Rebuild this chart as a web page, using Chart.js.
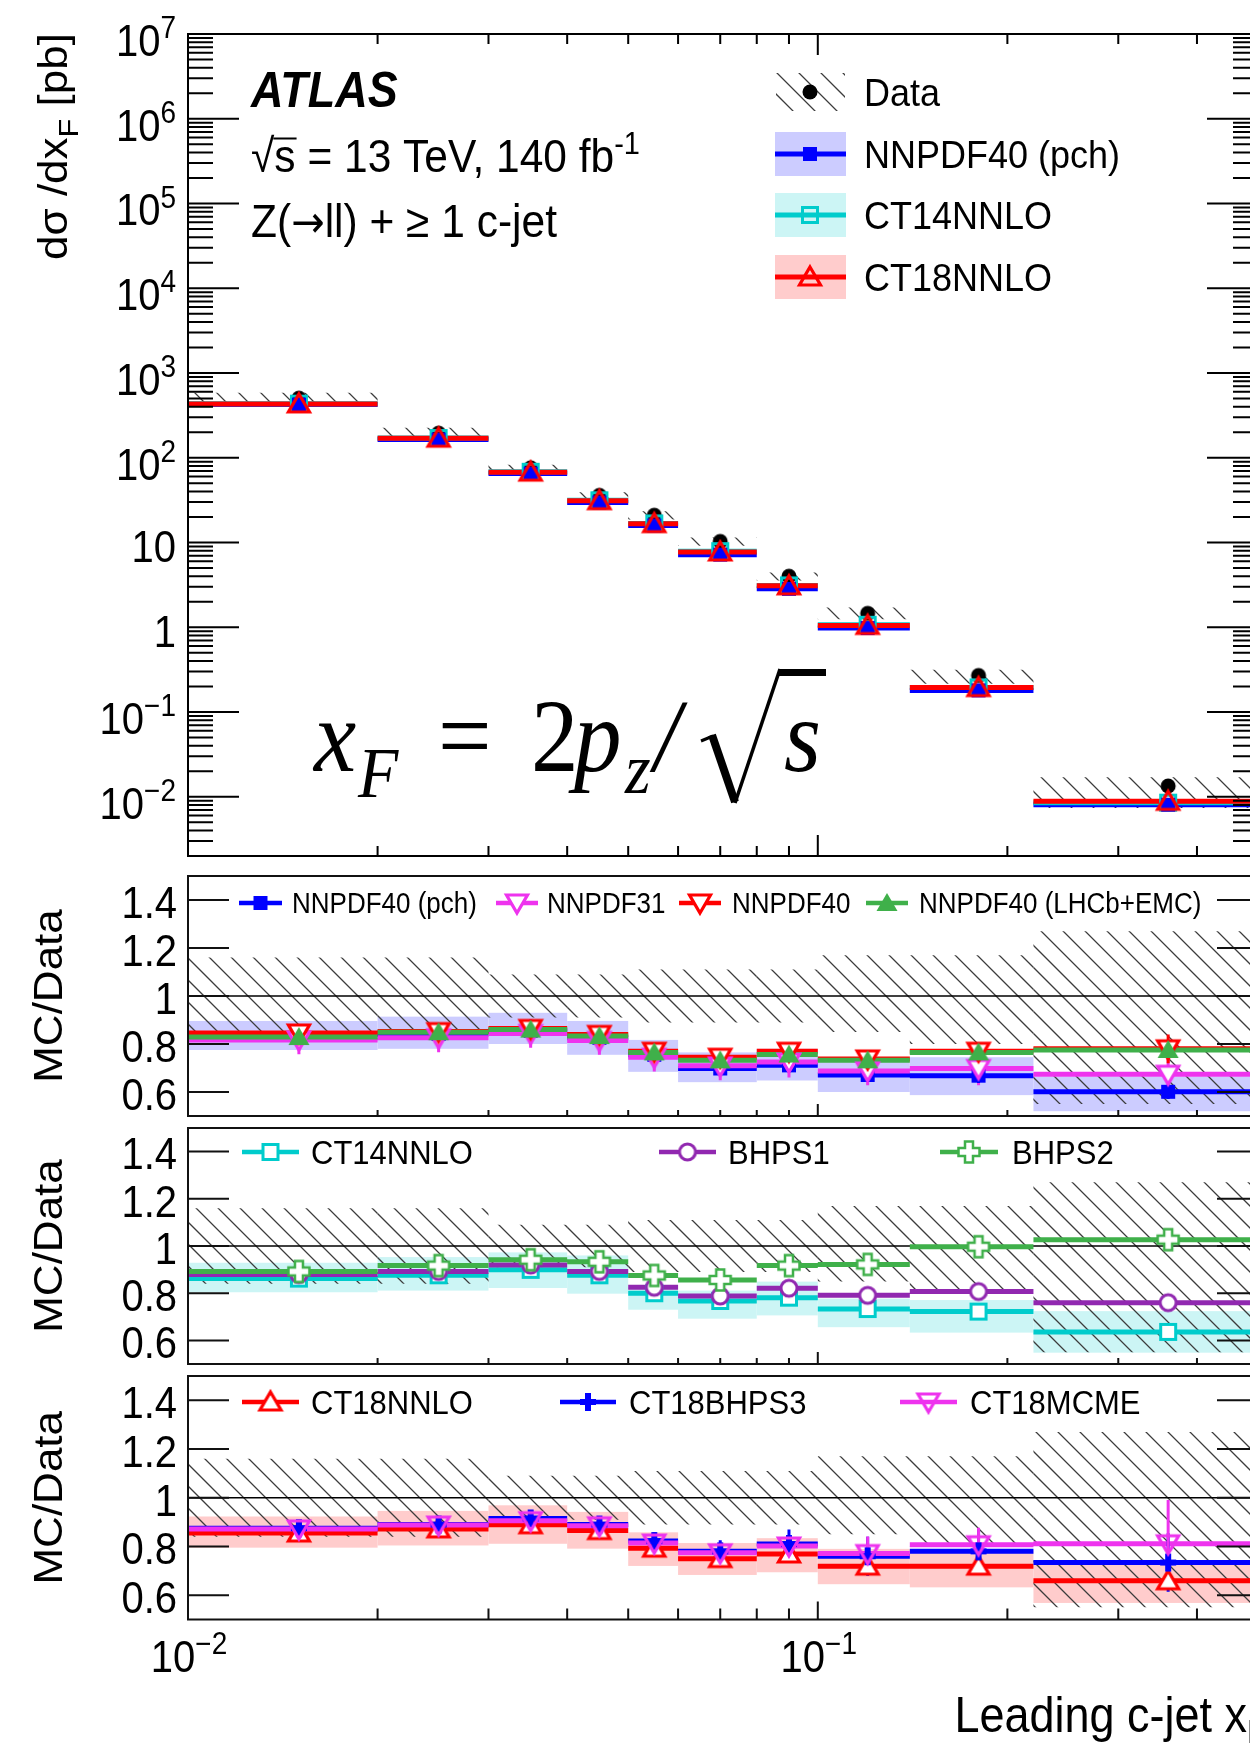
<!DOCTYPE html>
<html>
<head>
<meta charset="utf-8">
<title>Leading c-jet xF</title>
<script src="https://cdn.jsdelivr.net/npm/chart.js@4.4.1/dist/chart.umd.min.js"></script>
<style>
  html, body { margin: 0; padding: 0; background: #fff; width: 1250px; height: 1751px; overflow: hidden; position: relative; }
  canvas { position: absolute; left: 0; }
</style>
</head>
<body>
<canvas id="cTop" width="1300" height="866" style="top:0px"></canvas>
<canvas id="cR1" width="1300" height="260" style="top:866px"></canvas>
<canvas id="cR2" width="1300" height="256" style="top:1118px"></canvas>
<canvas id="cR3" width="1300" height="385" style="top:1366px"></canvas>
<script>
// x_F bins and the bin centres where the markers sit
const binEdges = [0.01, 0.02, 0.03, 0.04, 0.05, 0.06, 0.08, 0.10, 0.14, 0.22, 0.5];
const binCenters = [0.015, 0.025, 0.035, 0.045, 0.055, 0.07, 0.09, 0.12, 0.18, 0.36];

// top panel, dsigma/dxF [pb]
const dataXsec = [505, 195, 76, 36, 21, 10.3, 4.0, 1.46, 0.27, 0.0134];
const dataUncUp = [0.16, 0.16, 0.09, 0.09, 0.11, 0.11, 0.11, 0.17, 0.17, 0.27];
const dataUncDn = [0.16, 0.16, 0.09, 0.09, 0.11, 0.11, 0.11, 0.15, 0.20, 0.45];
const xsecNNPDF40pch = [424, 164, 65, 29.7, 15.9, 7.19, 2.84, 0.98, 0.180, 0.00805];
const xsecCT14 = [435, 171, 68.3, 31.5, 16.8, 7.9, 3.12, 1.07, 0.195, 0.00852];
const xsecCT18 = [432, 170, 67.6, 31.1, 16.7, 7.73, 3.08, 1.05, 0.194, 0.00883];

// ratio panel 1 (NNPDF family)
const r1Pch = [0.84, 0.842, 0.855, 0.826, 0.755, 0.698, 0.711, 0.671, 0.668, 0.601];
const r1PchLo = [0.775, 0.78, 0.80, 0.755, 0.684, 0.641, 0.648, 0.60, 0.587, 0.52];
const r1PchHi = [0.896, 0.914, 0.93, 0.896, 0.817, 0.765, 0.78, 0.725, 0.745, 0.664];
const r1PchErr = [0.015, 0.015, 0.015, 0.015, 0.02, 0.02, 0.025, 0.025, 0.03, 0.03];
const r1Nn31 = [0.817, 0.826, 0.844, 0.815, 0.745, 0.709, 0.725, 0.688, 0.698, 0.674];
const r1Nn31Err = [0.06, 0.06, 0.06, 0.06, 0.06, 0.06, 0.065, 0.06, 0.07, 0.09];
const r1Nn40 = [0.846, 0.852, 0.865, 0.84, 0.77, 0.745, 0.77, 0.738, 0.77, 0.78];
const r1Nn40Err = [0.02, 0.02, 0.02, 0.02, 0.02, 0.02, 0.02, 0.02, 0.03, 0.06];
const r1Lhcb = [0.829, 0.849, 0.86, 0.833, 0.765, 0.732, 0.756, 0.732, 0.765, 0.775];
const r1LhcbErr = [0.01, 0.01, 0.01, 0.01, 0.015, 0.015, 0.015, 0.015, 0.02, 0.025];

// ratio panel 2 (CT14 and BHPS)
const r2Ct14 = [0.862, 0.876, 0.899, 0.876, 0.80, 0.767, 0.781, 0.733, 0.722, 0.636];
const r2Ct14Lo = [0.804, 0.811, 0.822, 0.798, 0.73, 0.692, 0.706, 0.656, 0.633, 0.548];
const r2Ct14Hi = [0.929, 0.953, 0.973, 0.96, 0.825, 0.811, 0.849, 0.777, 0.771, 0.724];
const r2Bhps1 = [0.879, 0.892, 0.919, 0.892, 0.825, 0.788, 0.821, 0.791, 0.807, 0.76];
const r2Bhps2 = [0.892, 0.917, 0.942, 0.933, 0.875, 0.856, 0.917, 0.922, 0.997, 1.027];

// ratio panel 3 (CT18 family)
const r3Ct18 = [0.855, 0.872, 0.889, 0.865, 0.793, 0.75, 0.769, 0.719, 0.719, 0.659];
const r3Ct18Lo = [0.795, 0.804, 0.811, 0.791, 0.72, 0.683, 0.694, 0.645, 0.632, 0.568];
const r3Ct18Hi = [0.923, 0.946, 0.969, 0.942, 0.858, 0.814, 0.834, 0.79, 0.784, 0.74];
const r3Ct18Err = [0.01, 0.01, 0.01, 0.01, 0.015, 0.015, 0.02, 0.02, 0.025, 0.03];
const r3Bhps3 = [0.875, 0.89, 0.915, 0.89, 0.822, 0.78, 0.81, 0.76, 0.78, 0.734];
const r3Bhps3Err = [0.02, 0.02, 0.02, 0.02, 0.035, 0.045, 0.06, 0.08, 0.09, 0.12];
const r3Mcme = [0.872, 0.888, 0.906, 0.885, 0.814, 0.774, 0.802, 0.771, 0.807, 0.811];
const r3McmeErr = [0.02, 0.02, 0.02, 0.02, 0.03, 0.035, 0.04, 0.07, 0.07, 0.18];

// axis ticks
const xMajorTicks = [0.01, 0.1];
const xMinorTicks = [0.02, 0.03, 0.04, 0.05, 0.06, 0.07, 0.08, 0.09, 0.2, 0.3, 0.4];
const ratioTicks = [0.6, 0.8, 1.0, 1.2, 1.4];
const topExponents = [-2, -1, 0, 1, 2, 3, 4, 5, 6, 7];

const FONT = '"Liberation Sans", Arial, Helvetica, sans-serif';
const SERIF = '"Liberation Serif", "Times New Roman", serif';
const SY = 1.1; // text in the reference is a bit taller than wide

const BLUE = '#0000ff', CYAN = '#00cccc', RED = '#ff0000', MAGENTA = '#ee33ee',
      GREEN = '#3fb04a', PURPLE = '#9128b0', HATCH = '#3c3c3c';
const BAND_BLUE = '#ccccff', BAND_CYAN = '#ccf5f5', BAND_RED = '#ffcccc';

// ---------- small drawing helpers ----------
function rich(ctx, parts, x, y, o = {}) {
  ctx.save();
  ctx.translate(x, y);
  ctx.scale(1, SY);
  if (o.rot) ctx.rotate(o.rot);
  ctx.fillStyle = o.color || '#000';
  ctx.textBaseline = 'alphabetic';
  ctx.textAlign = 'left';
  const fontOf = p => (p.style || '') + ' ' + p.size + 'px ' + (p.family || FONT);
  let total = 0;
  const widths = parts.map(p => { ctx.font = fontOf(p); const w = ctx.measureText(p.t).width; total += w; return w; });
  let cx = o.align === 'right' ? -total : o.align === 'center' ? -total / 2 : 0;
  parts.forEach((p, i) => {
    ctx.font = fontOf(p);
    ctx.fillText(p.t, cx, p.dy || 0);
    cx += widths[i];
  });
  ctx.restore();
  return total;
}
const base = (yc, size) => yc + 0.358 * size * SY;

function hatchRect(ctx, x0, y0, x1, y1, phase) {
  const sp = 22;
  ctx.save();
  ctx.beginPath();
  ctx.rect(x0, y0, x1 - x0, y1 - y0);
  ctx.clip();
  ctx.strokeStyle = HATCH;
  ctx.lineWidth = 1.3;
  ctx.beginPath();
  const cMin = y0 - x1, cMax = y1 - x0;
  for (let c = Math.floor((cMin + phase) / sp) * sp - phase; c <= cMax + sp; c += sp) {
    ctx.moveTo(x0 - 2, x0 - 2 + c);
    ctx.lineTo(x1 + 2, x1 + 2 + c);
  }
  ctx.stroke();
  ctx.restore();
}

function marker(kind, color, fill) {
  const S = 28, c = document.createElement('canvas');
  c.width = S; c.height = S;
  const g = c.getContext('2d'), m = S / 2;
  g.strokeStyle = color; g.fillStyle = color; g.lineWidth = 3; g.lineJoin = 'miter';
  g.beginPath();
  if (kind === 'dot') {
    g.arc(m, m, 7.5, 0, 2 * Math.PI); g.fill();
  } else if (kind === 'sqFull') {
    g.fillRect(m - 7, m - 7, 14, 14);
  } else if (kind === 'sqOpen') {
    g.rect(m - 7.5, m - 7.5, 15, 15);
    if (fill) { g.fillStyle = fill; g.fill(); }
    g.stroke();
  } else if (kind === 'triUp' || kind === 'triDown' || kind === 'triUpFull') {
    const s = kind === 'triDown' ? -1 : 1;
    g.moveTo(m, m - 10 * s); g.lineTo(m + 10.5, m + 8 * s); g.lineTo(m - 10.5, m + 8 * s); g.closePath();
    if (kind === 'triUpFull') { g.fill(); }
    else { if (fill) { g.fillStyle = fill; g.fill(); } g.lineWidth = 3.2; g.stroke(); }
  } else if (kind === 'circOpen') {
    g.arc(m, m, 8, 0, 2 * Math.PI);
    if (fill) { g.fillStyle = fill; g.fill(); }
    g.stroke();
  } else if (kind === 'crossOpen') {
    const L = 10.5, w = 4;
    const pts = [[-w, -L], [w, -L], [w, -w], [L, -w], [L, w], [w, w], [w, L], [-w, L], [-w, w], [-L, w], [-L, -w], [-w, -w]];
    pts.forEach((p, i) => (i ? g.lineTo(m + p[0], m + p[1]) : g.moveTo(m + p[0], m + p[1])));
    g.closePath();
    if (fill) { g.fillStyle = fill; g.fill(); }
    g.lineWidth = 2.5; g.stroke();
  } else if (kind === 'plus') {
    g.fillRect(m - 3, m - 9, 6, 18);
    g.fillRect(m - 8, m - 3, 16, 6);
  }
  return c;
}

// ---------- dataset builders ----------
function stepData(vals) {
  const pts = [];
  vals.forEach((v, i) => pts.push({x: binEdges[i], y: v}, {x: binEdges[i + 1], y: v}, {x: binEdges[i + 1], y: null}));
  return pts;
}
function errData(vals, err) {
  const pts = [];
  vals.forEach((v, i) => pts.push({x: binCenters[i], y: v - err[i]}, {x: binCenters[i], y: v + err[i]}, {x: binCenters[i], y: null}));
  return pts;
}
const lineDs = (vals, color) => ({data: stepData(vals), borderColor: color, borderWidth: 5, pointRadius: 0, fill: false, tension: 0, borderCapStyle: 'butt'});
const errDs = (vals, err, color) => ({data: errData(vals, err), borderColor: color, borderWidth: 3, pointRadius: 0, fill: false, borderCapStyle: 'butt'});
const markDs = (vals, img) => ({data: vals.map((v, i) => ({x: binCenters[i], y: v})), showLine: false, pointStyle: img, pointRadius: 10, pointHoverRadius: 10, borderWidth: 0});
// list is bottom-to-top; chart.js draws lower order on top
const ordered = list => list.map((d, k) => Object.assign(d, {order: -k}));

function makeChart(id, padTop, padBottom, yScale, datasets, plugin) {
  return new Chart(document.getElementById(id), {
    type: 'line',
    data: {datasets: ordered(datasets)},
    options: {
      responsive: false, animation: false, devicePixelRatio: 1, events: [],
      layout: {padding: {left: 188, right: 42, top: padTop, bottom: padBottom}},
      plugins: {legend: {display: false}, tooltip: {enabled: false}},
      scales: {
        x: {type: 'logarithmic', min: 0.01, max: 0.5, display: false},
        y: Object.assign({display: false}, yScale)
      }
    },
    plugins: [plugin]
  });
}

function drawXTicks(ctx, a, x, maj, min, top) {
  ctx.beginPath();
  xMajorTicks.concat(xMinorTicks).forEach(v => {
    const px = x.getPixelForValue(v), len = xMajorTicks.includes(v) ? maj : min;
    ctx.moveTo(px, a.bottom); ctx.lineTo(px, a.bottom - len);
    if (top) { ctx.moveTo(px, a.top); ctx.lineTo(px, a.top + len); }
  });
  ctx.stroke();
}

// ---------- top panel ----------
const topImgs = {
  data: marker('dot', '#000'),
  pch: marker('sqFull', BLUE),
  ct14: marker('sqOpen', CYAN),
  ct18: marker('triUp', RED)
};

const topPlugin = {
  id: 'topDeco',
  beforeDatasetsDraw(chart) {
    const {ctx, chartArea: a, scales: {x, y}} = chart;
    ctx.save();
    ctx.beginPath(); ctx.rect(a.left, a.top, a.right - a.left, a.bottom - a.top); ctx.clip();
    dataXsec.forEach((v, i) => {
      hatchRect(ctx, x.getPixelForValue(binEdges[i]), y.getPixelForValue(v * (1 + dataUncUp[i])),
        x.getPixelForValue(binEdges[i + 1]), y.getPixelForValue(v * (1 - dataUncDn[i])), 0);
    });
    ctx.restore();
  },
  afterDraw(chart) {
    const {ctx, chartArea: a, scales: {x, y}} = chart;
    ctx.save();
    ctx.strokeStyle = '#000'; ctx.lineWidth = 2;
    ctx.strokeRect(a.left, a.top, a.right - a.left, a.bottom - a.top);
    drawXTicks(ctx, a, x, 21, 10, true);
    // log y ticks
    ctx.beginPath();
    topExponents.forEach(e => {
      const py = y.getPixelForValue(Math.pow(10, e));
      ctx.moveTo(a.left, py); ctx.lineTo(a.left + 51, py);
      ctx.moveTo(a.right, py); ctx.lineTo(a.right - 51, py);
    });
    for (let e = -3; e < 7; e++) {
      for (let k = 2; k <= 9; k++) {
        const v = k * Math.pow(10, e);
        if (v < y.min) continue;
        const py = y.getPixelForValue(v);
        ctx.moveTo(a.left, py); ctx.lineTo(a.left + 25, py);
        ctx.moveTo(a.right, py); ctx.lineTo(a.right - 25, py);
      }
    }
    ctx.stroke();
    topExponents.forEach(e => {
      const py = y.getPixelForValue(Math.pow(10, e));
      let parts;
      if (e === 0) parts = [{t: '1', size: 40}];
      else if (e === 1) parts = [{t: '10', size: 40}];
      else parts = [{t: '10', size: 40}, {t: e < 0 ? '\u2212' + (-e) : String(e), size: 28, dy: -16}];
      rich(ctx, parts, 176, base(py + (parts.length > 1 ? 6 : 4), 40), {align: 'right'});
    });
    // y title
    rich(ctx, [{t: 'd\u03c3 /dx', size: 40}, {t: 'F', size: 28, dy: 11}, {t: ' [pb]', size: 40}], 67, 33, {align: 'right', rot: -Math.PI / 2});
    // labels
    rich(ctx, [{t: 'ATLAS', size: 45, style: 'italic bold'}], 251, 107);
    rich(ctx, [{t: '\u221as = 13 TeV, 140 fb', size: 42.5}, {t: '-1', size: 29, dy: -16}], 251, 172);
    ctx.font = '42.5px ' + FONT;
    const wr = ctx.measureText('\u221a').width, ws = ctx.measureText('s').width;
    ctx.lineWidth = 2;
    ctx.beginPath(); ctx.moveTo(251 + wr - 1, 172 - 33.5); ctx.lineTo(251 + wr + ws + 1, 172 - 33.5); ctx.stroke();
    rich(ctx, [{t: 'Z(', size: 42.5}, {t: '\u2192', size: 40, family: '"DejaVu Sans", sans-serif'},
               {t: 'll) + \u2265 1 c-jet', size: 42.5}], 251, 237);
    // legend
    const rows = [
      {label: 'Data', yc: 92},
      {label: 'NNPDF40 (pch)', yc: 154, color: BLUE, band: BAND_BLUE, img: topImgs.pch},
      {label: 'CT14NNLO', yc: 215, color: CYAN, band: BAND_CYAN, img: topImgs.ct14},
      {label: 'CT18NNLO', yc: 277, color: RED, band: BAND_RED, img: topImgs.ct18}
    ];
    rows.forEach(r => {
      if (r.band) {
        ctx.fillStyle = r.band; ctx.fillRect(775, r.yc - 22, 71, 44);
        ctx.strokeStyle = r.color; ctx.lineWidth = 5;
        ctx.beginPath(); ctx.moveTo(775, r.yc); ctx.lineTo(846, r.yc); ctx.stroke();
        ctx.drawImage(r.img, 810 - r.img.width / 2, r.yc - r.img.height / 2);
      } else {
        hatchRect(ctx, 776, r.yc - 19, 845, r.yc + 19, 0);
        ctx.drawImage(topImgs.data, 810 - 14, r.yc - 14);
      }
      rich(ctx, [{t: r.label, size: 36}], 864, base(r.yc, 36));
    });
    // formula x_F = 2 p_z / sqrt(s)
    const big = 95, small = 66, bl = 771;
    rich(ctx, [{t: 'x', size: big, style: 'italic', family: SERIF}], 314, bl);
    rich(ctx, [{t: 'F', size: small, style: 'italic', family: SERIF}], 358, bl + 26);
    rich(ctx, [{t: '=', size: big, family: SERIF}], 438, bl);
    rich(ctx, [{t: '2', size: big, family: SERIF}], 531, bl);
    rich(ctx, [{t: 'p', size: big, style: 'italic', family: SERIF}], 574, bl);
    rich(ctx, [{t: 'z', size: small, style: 'italic', family: SERIF}], 625, bl + 22);
    rich(ctx, [{t: '/', size: big, style: 'italic', family: SERIF}], 654, bl);
    ctx.strokeStyle = '#000'; ctx.lineCap = 'butt';
    ctx.lineWidth = 3;
    ctx.beginPath(); ctx.moveTo(701, 741); ctx.lineTo(713, 736); ctx.stroke();
    ctx.lineWidth = 8;
    ctx.beginPath(); ctx.moveTo(712, 735); ctx.lineTo(735, 802); ctx.stroke();
    ctx.lineWidth = 3.5;
    ctx.beginPath(); ctx.moveTo(735, 803); ctx.lineTo(780, 669); ctx.stroke();
    ctx.lineWidth = 7;
    ctx.beginPath(); ctx.moveTo(779, 672.5); ctx.lineTo(826, 672.5); ctx.stroke();
    rich(ctx, [{t: 's', size: big, style: 'italic', family: SERIF}], 784, bl);
    ctx.restore();
  }
};

makeChart('cTop', 34, 7.5, {type: 'logarithmic', min: 0.002, max: 1e7}, [
  lineDs(xsecNNPDF40pch, BLUE),
  lineDs(xsecCT14, CYAN),
  lineDs(xsecCT18, RED),
  markDs(dataXsec, topImgs.data),
  markDs(xsecCT14, topImgs.ct14),
  markDs(xsecNNPDF40pch, topImgs.pch),
  markDs(xsecCT18, topImgs.ct18)
], topPlugin);

// ---------- ratio panels ----------
function ratioPlugin(p) {
  return {
    id: 'ratio_' + p.name,
    beforeDatasetsDraw(chart) {
      const {ctx, chartArea: a, scales: {x, y}} = chart;
      ctx.save();
      ctx.beginPath(); ctx.rect(a.left, a.top, a.right - a.left, a.bottom - a.top); ctx.clip();
      ctx.fillStyle = p.band.color;
      p.band.lo.forEach((lo, i) => {
        const x0 = x.getPixelForValue(binEdges[i]), x1 = x.getPixelForValue(binEdges[i + 1]);
        const y0 = y.getPixelForValue(p.band.hi[i]), y1 = y.getPixelForValue(lo);
        ctx.fillRect(x0, y0, x1 - x0, y1 - y0);
      });
      dataUncUp.forEach((u, i) => {
        hatchRect(ctx, x.getPixelForValue(binEdges[i]), y.getPixelForValue(1 + u),
          x.getPixelForValue(binEdges[i + 1]), y.getPixelForValue(1 - dataUncDn[i]), p.off);
      });
      ctx.strokeStyle = '#000'; ctx.lineWidth = 1.6;
      ctx.beginPath(); ctx.moveTo(a.left, y.getPixelForValue(1)); ctx.lineTo(a.right, y.getPixelForValue(1)); ctx.stroke();
      ctx.restore();
    },
    afterDraw(chart) {
      const {ctx, chartArea: a, scales: {x, y}} = chart;
      ctx.save();
      ctx.strokeStyle = '#111'; ctx.lineWidth = 2;
      ctx.strokeRect(a.left, a.top, a.right - a.left, a.bottom - a.top);
      drawXTicks(ctx, a, x, p.xMaj, p.xMin, false);
      ctx.beginPath();
      ratioTicks.forEach(v => {
        const py = y.getPixelForValue(v);
        ctx.moveTo(a.left, py); ctx.lineTo(a.left + 41, py);
        ctx.moveTo(a.right, py); ctx.lineTo(a.right - 41, py);
      });
      ctx.stroke();
      ratioTicks.forEach(v => {
        rich(ctx, [{t: v === 1 ? '1' : v.toFixed(1), size: 40}], 177, base(y.getPixelForValue(v) + 2, 40), {align: 'right'});
      });
      rich(ctx, [{t: 'MC/Data', size: 40}], 62, y.getPixelForValue(1), {align: 'center', rot: -Math.PI / 2});
      const ly = p.legend.y - p.off;
      p.legend.items.forEach(it => {
        ctx.strokeStyle = it.color; ctx.lineWidth = 4.5;
        ctx.beginPath(); ctx.moveTo(it.x0, ly); ctx.lineTo(it.x1, ly); ctx.stroke();
        ctx.drawImage(it.img, (it.x0 + it.x1) / 2 - it.img.width / 2, ly - it.img.height / 2);
        rich(ctx, [{t: it.label, size: p.legend.size}], it.tx, base(ly, p.legend.size));
      });
      if (p.xLabels) {
        xMajorTicks.forEach(v => {
          const e = Math.round(Math.log10(v));
          rich(ctx, [{t: '10', size: 40}, {t: '\u2212' + (-e), size: 28, dy: -16}], x.getPixelForValue(v) + 1, base(1656 - p.off, 40), {align: 'center'});
        });
        rich(ctx, [{t: 'Leading c-jet x', size: 45}, {t: 'F', size: 31, dy: 10}], 1266, 1732 - p.off, {align: 'right'});
      }
      ctx.restore();
    }
  };
}
const ratioY = {type: 'linear', min: 0.5, max: 1.5};

// panel 1
const m1 = {
  pch: marker('sqFull', BLUE),
  nn31: marker('triDown', MAGENTA, '#fff'),
  nn40: marker('triDown', RED, '#fff'),
  lhcb: marker('triUpFull', GREEN)
};
makeChart('cR1', 8, 3.3, ratioY, [
  lineDs(r1Pch, BLUE), lineDs(r1Nn31, MAGENTA), lineDs(r1Nn40, RED), lineDs(r1Lhcb, GREEN),
  errDs(r1Nn31, r1Nn31Err, MAGENTA), errDs(r1Pch, r1PchErr, BLUE), errDs(r1Nn40, r1Nn40Err, RED), errDs(r1Lhcb, r1LhcbErr, GREEN),
  markDs(r1Pch, m1.pch), markDs(r1Nn31, m1.nn31), markDs(r1Nn40, m1.nn40), markDs(r1Lhcb, m1.lhcb)
], ratioPlugin({
  name: 'nnpdf', off: 866, xMaj: 12, xMin: 6,
  band: {lo: r1PchLo, hi: r1PchHi, color: BAND_BLUE},
  legend: {y: 903, size: 26, items: [
    {label: 'NNPDF40 (pch)', color: BLUE, img: m1.pch, x0: 239, x1: 282, tx: 292},
    {label: 'NNPDF31', color: MAGENTA, img: m1.nn31, x0: 496, x1: 538, tx: 547},
    {label: 'NNPDF40', color: RED, img: m1.nn40, x0: 679, x1: 721, tx: 732},
    {label: 'NNPDF40 (LHCb+EMC)', color: GREEN, img: m1.lhcb, x0: 866, x1: 908, tx: 919}
  ]}
}));

// panel 2
const m2 = {
  ct14: marker('sqOpen', CYAN, '#fff'),
  bhps1: marker('circOpen', PURPLE, '#fff'),
  bhps2: marker('crossOpen', GREEN, '#fff')
};
makeChart('cR2', 4.7, 3.6, ratioY, [
  lineDs(r2Ct14, CYAN), lineDs(r2Bhps1, PURPLE), lineDs(r2Bhps2, GREEN),
  markDs(r2Ct14, m2.ct14), markDs(r2Bhps1, m2.bhps1), markDs(r2Bhps2, m2.bhps2)
], ratioPlugin({
  name: 'bhps', off: 1118, xMaj: 12, xMin: 6,
  band: {lo: r2Ct14Lo, hi: r2Ct14Hi, color: BAND_CYAN},
  legend: {y: 1152, size: 31, items: [
    {label: 'CT14NNLO', color: CYAN, img: m2.ct14, x0: 242, x1: 299, tx: 311},
    {label: 'BHPS1', color: PURPLE, img: m2.bhps1, x0: 659, x1: 716, tx: 728},
    {label: 'BHPS2', color: GREEN, img: m2.bhps2, x0: 940, x1: 998, tx: 1012}
  ]}
}));

// panel 3
const m3 = {
  ct18: marker('triUp', RED, '#fff'),
  bhps3: marker('plus', BLUE),
  mcme: marker('triDown', MAGENTA)
};
makeChart('cR3', 4.4, 131.5, ratioY, [
  lineDs(r3Ct18, RED), lineDs(r3Bhps3, BLUE), lineDs(r3Mcme, MAGENTA),
  errDs(r3Ct18, r3Ct18Err, RED), errDs(r3Bhps3, r3Bhps3Err, BLUE), errDs(r3Mcme, r3McmeErr, MAGENTA),
  markDs(r3Ct18, m3.ct18), markDs(r3Bhps3, m3.bhps3), markDs(r3Mcme, m3.mcme)
], ratioPlugin({
  name: 'ct18', off: 1366, xMaj: 18, xMin: 11, xLabels: true,
  band: {lo: r3Ct18Lo, hi: r3Ct18Hi, color: BAND_RED},
  legend: {y: 1402, size: 31, items: [
    {label: 'CT18NNLO', color: RED, img: m3.ct18, x0: 242, x1: 299, tx: 311},
    {label: 'CT18BHPS3', color: BLUE, img: m3.bhps3, x0: 560, x1: 616, tx: 629},
    {label: 'CT18MCME', color: MAGENTA, img: m3.mcme, x0: 900, x1: 957, tx: 970}
  ]}
}));
</script>
</body>
</html>
